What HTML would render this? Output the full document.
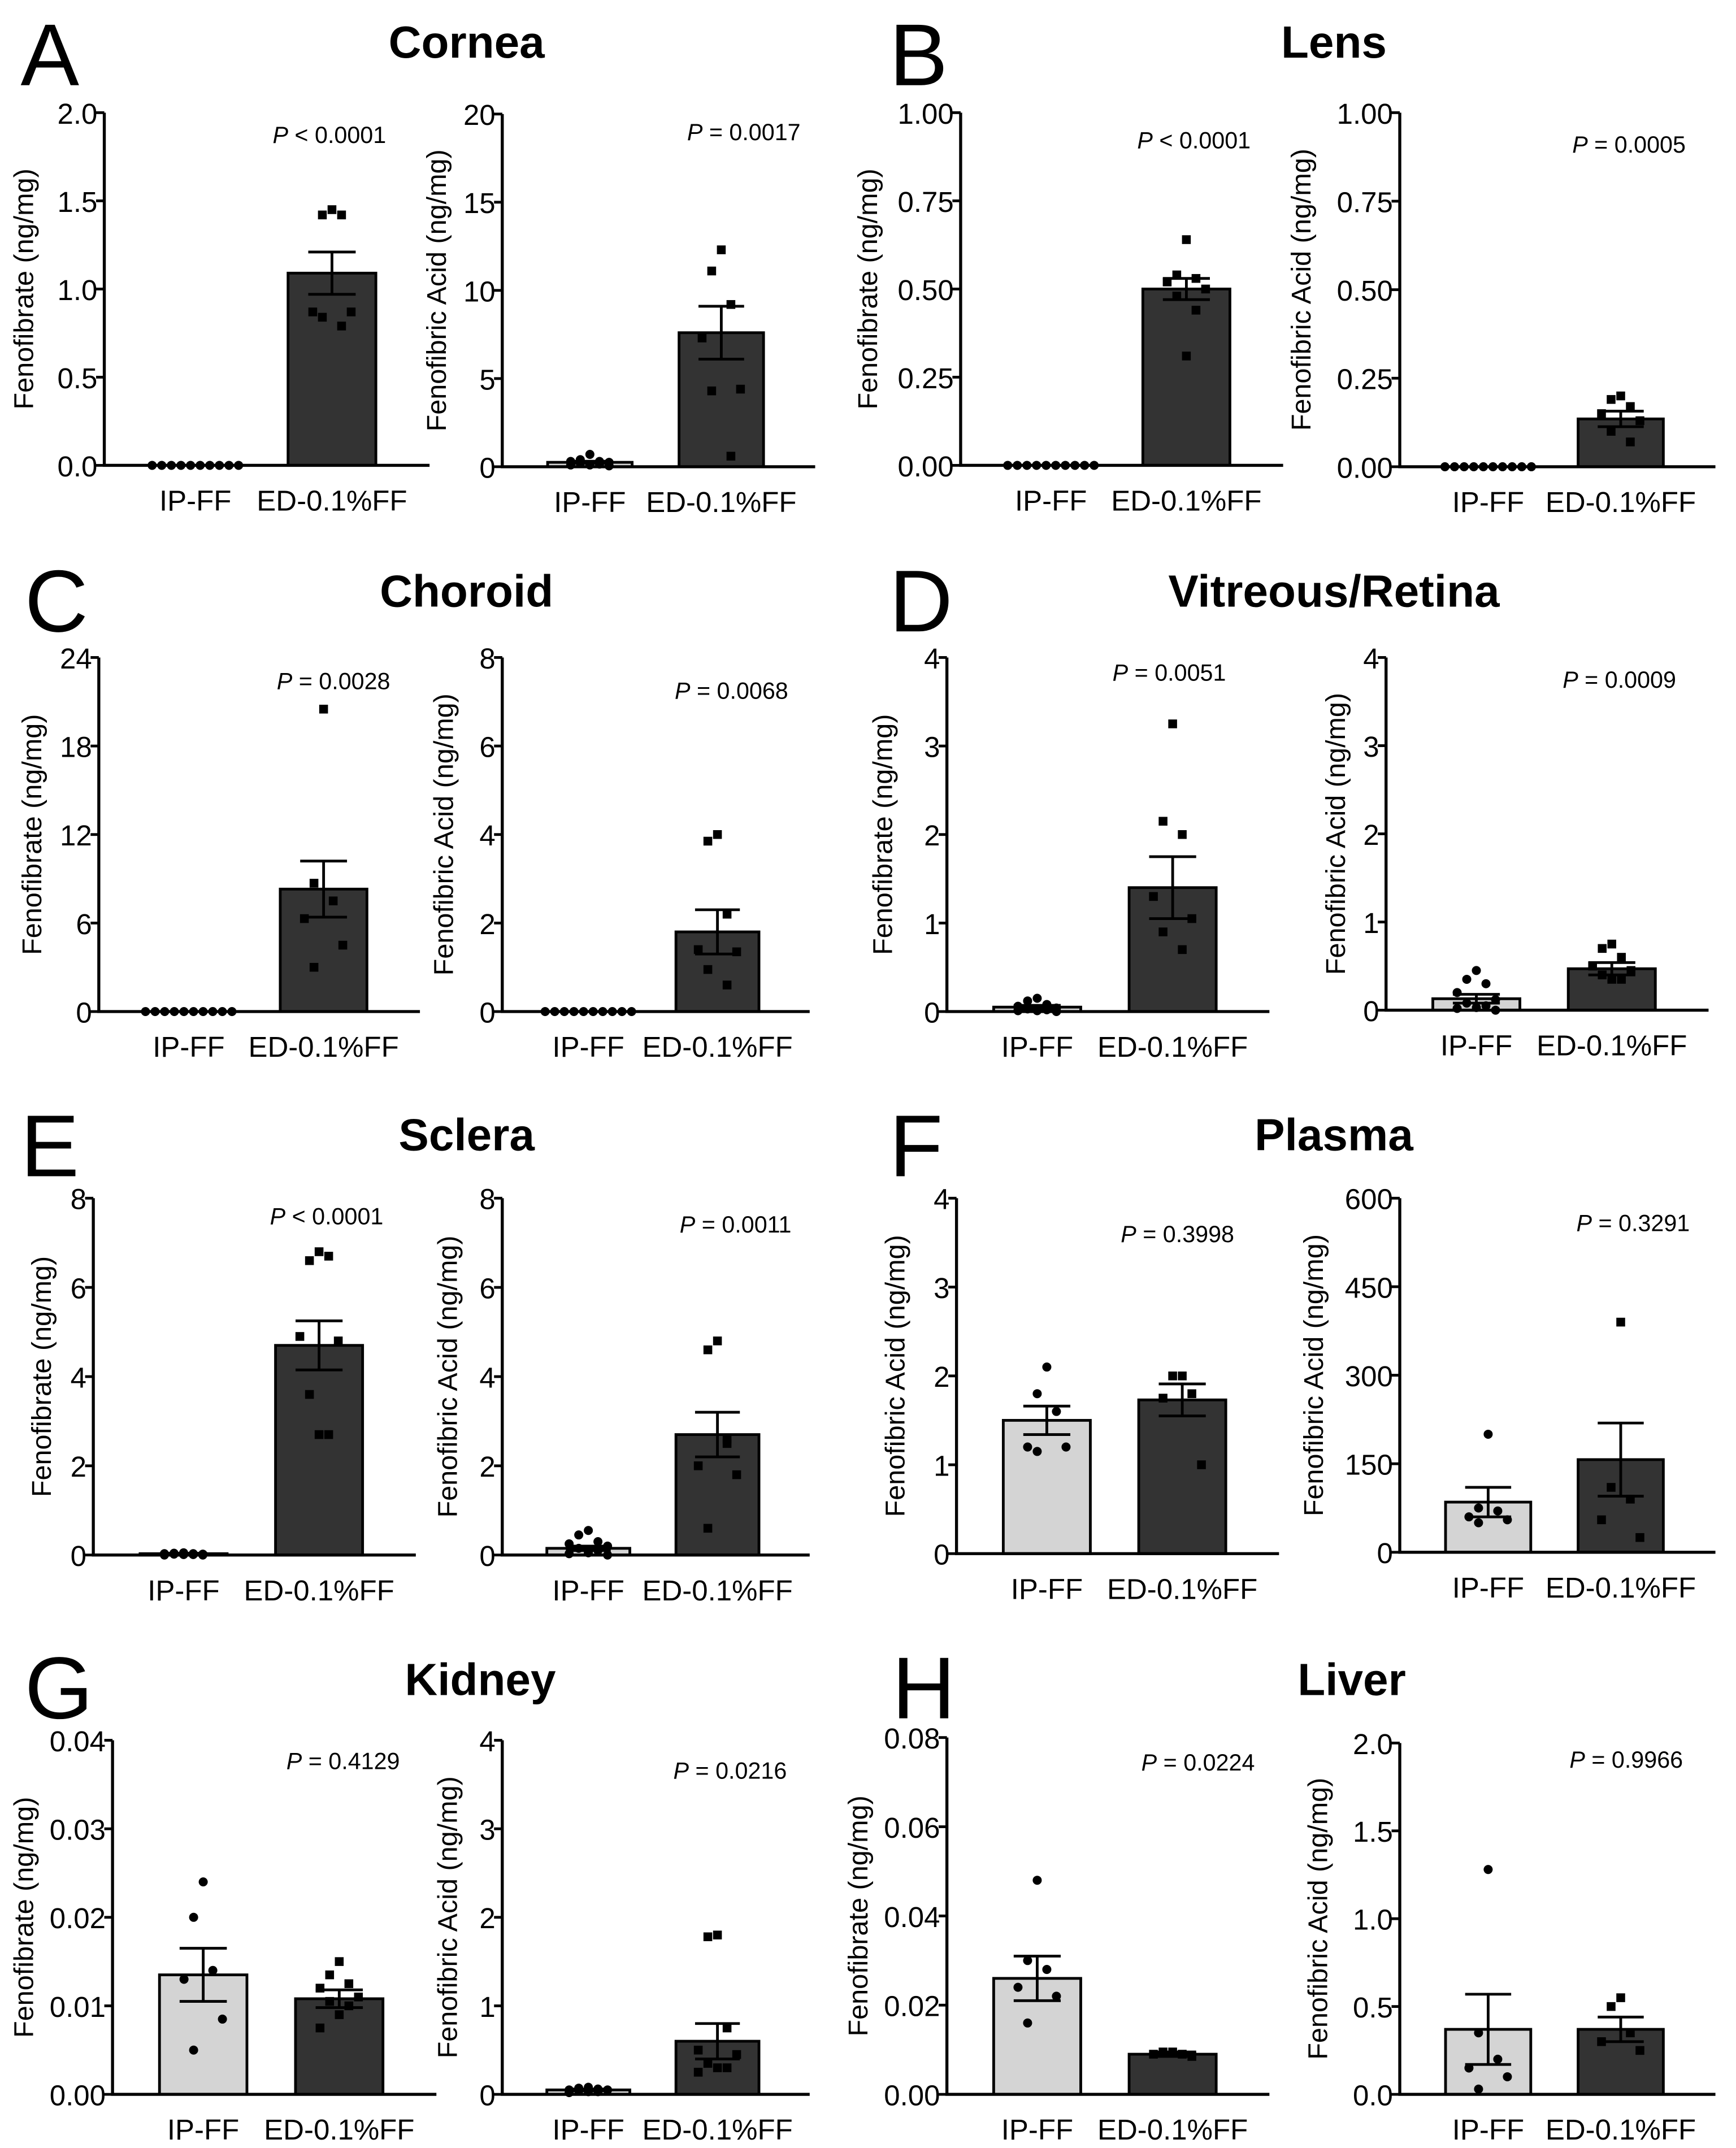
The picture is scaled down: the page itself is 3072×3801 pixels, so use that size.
<!DOCTYPE html>
<html><head><meta charset="utf-8"><style>html,body{margin:0;padding:0;background:#fff}svg{display:block}</style></head>
<body>
<svg id="fig" xmlns="http://www.w3.org/2000/svg" width="3072" height="3801" viewBox="0 0 1265 1565" font-family="Liberation Sans, sans-serif">
<rect width="1265" height="1565" fill="#fff"/>
</svg>
<script>
const NS='http://www.w3.org/2000/svg';
const svg=document.getElementById('fig');
function mk(tag,attrs,parent,text){const e=document.createElementNS(NS,tag);for(const k in attrs)e.setAttribute(k,attrs[k]);if(text!==undefined)e.textContent=text;(parent||svg).appendChild(e);return e;}

const panelLetters=['A','B','C','D','E','F','G','H'];
const panelTitles=['Cornea','Lens','Choroid','Vitreous/Retina','Sclera','Plasma','Kidney','Liver'];
const categories=['IP-FF','ED-0.1%FF'];
const yMaxes=[2,20,1,1,24,8,4,4,8,8,4,600,0.04,4,0.08,2];
const tickLabels=[
 ['0.0','0.5','1.0','1.5','2.0'],['0','5','10','15','20'],['0.00','0.25','0.50','0.75','1.00'],['0.00','0.25','0.50','0.75','1.00'],
 ['0','6','12','18','24'],['0','2','4','6','8'],['0','1','2','3','4'],['0','1','2','3','4'],
 ['0','2','4','6','8'],['0','2','4','6','8'],['0','1','2','3','4'],['0','150','300','450','600'],
 ['0.00','0.01','0.02','0.03','0.04'],['0','1','2','3','4'],['0.00','0.02','0.04','0.06','0.08'],['0.0','0.5','1.0','1.5','2.0']];
const yLabels=['Fenofibrate (ng/mg)','Fenofibric Acid (ng/mg)','Fenofibrate (ng/mg)','Fenofibric Acid (ng/mg)',
 'Fenofibrate (ng/mg)','Fenofibric Acid (ng/mg)','Fenofibrate (ng/mg)','Fenofibric Acid (ng/mg)',
 'Fenofibrate (ng/mg)','Fenofibric Acid (ng/mg)','Fenofibric Acid (ng/mg)','Fenofibric Acid (ng/mg)',
 'Fenofibrate (ng/mg)','Fenofibric Acid (ng/mg)','Fenofibrate (ng/mg)','Fenofibric Acid (ng/mg)'];
const pOps=['<','=','<','=','=','=','=','=','<','=','=','=','=','=','=','='];
const pVals=['0.0001','0.0017','0.0001','0.0005','0.0028','0.0068','0.0051','0.0009','0.0001','0.0011','0.3998','0.3291','0.4129','0.0216','0.0224','0.9966'];
const ipMeans=[0,0.25,0,0,0,0,0.05,0.13,0.03,0.15,1.5,85,0.0135,0.05,0.026,0.37];
const ipSems=[0,0.06,0,0,0,0,0.02,0.05,0.01,0.05,0.16,25,0.003,0.01,0.005,0.2];
const edMeans=[1.09,7.6,0.50,0.135,8.3,1.8,1.4,0.47,4.7,2.7,1.73,157,0.0108,0.6,0.009,0.37];
const edSems=[0.12,1.5,0.03,0.022,1.9,0.5,0.35,0.07,0.55,0.5,0.18,62,0.001,0.2,0.0005,0.07];
const ipPoints=[
 [0,0,0,0,0,0,0,0,0,0],[0.7,0.4,0.3,0.3,0.25,0.2,0.15,0.1,0.1,0.05],[0,0,0,0,0,0,0,0,0,0],[0,0,0,0,0,0,0,0,0,0],
 [0,0,0,0,0,0,0,0,0,0],[0,0,0,0,0,0,0,0,0,0],[0.15,0.12,0.08,0.06,0.04,0.03,0.02,0.01,0.01,0],[0.45,0.35,0.3,0.2,0.12,0.08,0.05,0.03,0.02,0],
 [0.05,0.04,0.03,0.03,0.02,0.02,0.01,0.01,0,0],[0.55,0.45,0.3,0.25,0.2,0.15,0.1,0.05,0.03,0],[2.1,1.8,1.6,1.2,1.2,1.15],[200,75,70,60,55,50],
 [0.024,0.020,0.014,0.013,0.0085,0.005],[0.08,0.07,0.06,0.05,0.05,0.04,0.03,0.03,0.02],[0.048,0.030,0.028,0.024,0.022,0.016],[1.28,0.35,0.2,0.15,0.1,0.03]];
const edPoints=[
 [1.45,1.42,1.42,0.87,0.87,0.84,0.79],[12.3,11.1,9.2,7.3,4.4,4.3,0.6],[0.64,0.54,0.53,0.52,0.50,0.48,0.44,0.31],[0.20,0.19,0.17,0.15,0.13,0.10,0.07],
 [20.5,8.7,7.5,6.3,4.5,3.0],[4.0,3.85,2.2,1.4,1.35,0.95,0.6],[3.25,2.15,2.0,1.3,1.05,0.9,0.7],[0.75,0.7,0.6,0.5,0.45,0.4,0.35,0.35],
 [6.8,6.6,6.7,4.9,4.8,3.6,2.7,2.7],[4.8,4.6,2.5,2.0,1.8,0.6,2.6],[2.0,2.0,1.8,1.75,1.0],[390,110,90,55,25],
 [0.015,0.0135,0.0125,0.012,0.011,0.0105,0.01,0.009,0.0075],[1.8,1.78,0.75,0.5,0.45,0.35,0.3,0.3,0.25],[0.0095,0.0095,0.009,0.009,0.0085],[0.55,0.5,0.35,0.3,0.25]];

// layout (viewBox units)
const axX=[76,366,700,1020,72,366,690,1010,68,366,697,1020,82,366,690,1020];
const axEnd=[313,594,935,1250,306,590,925,1245,303,590,932,1250,318,590,925,1250];
const axTop=[82,83,82,82,479,479,479,479,873,873,873,873,1268,1268,1266,1270];
const axBot=[339,340,339,340,737,737,737,736,1133,1133,1132,1131,1526,1526,1526,1526];
const yLabX=[24,325,639,955,30,330,650,980,37,333,659,964,24,333,632,967];
const pX=[240,542,870,1187,243,533,852,1180,238,536,858,1190,250,532,873,1185];
const pY=[98,96,102,105,496,503,490,495,886,892,899,891,1283,1290,1284,1282];
const letterPos=[[15,62],[648,62],[18,460],[648,460],[15,857],[648,857],[18,1252],[650,1252]];
const titlePos=[[340,42],[972,42],[340,442],[972,442],[340,838],[972,838],[350,1235],[985,1235]];

panelLetters.forEach((L,i)=>{
  const t=mk('text',{x:letterPos[i][0],y:letterPos[i][1],'font-size':64},svg,L);
  
  
  const tt=mk('text',{x:titlePos[i][0],y:titlePos[i][1],'font-size':33,'font-weight':'bold','text-anchor':'middle'},svg,panelTitles[i]);
  
  
});

for(let s=0;s<16;s++){
  const g=mk('g',{});
  
  
  const x0=axX[s],x1=axEnd[s],yt=axTop[s],yb=axBot[s],ym=yMaxes[s];
  const y=v=>yb-(v/ym)*(yb-yt);
  const W=x1-x0;
  const cx=[x0+0.28*W,x0+0.70*W];
  const bw=0.27*W;
  const means=[ipMeans[s],edMeans[s]],sems=[ipSems[s],edSems[s]],pts=[ipPoints[s],edPoints[s]];
  const fills=['#d4d4d4','#333333'];
  for(let c=0;c<2;c++){
    if(means[c]>0){
      const b=mk('rect',{x:cx[c]-bw/2,y:y(means[c]),width:bw,height:yb-y(means[c]),fill:fills[c],stroke:'#000','stroke-width':2},g);
      
      
    }
    const n=pts[c].length;
    const pat=[0,-1,1,-2,2,-1,1,0,-2,2];
    pts[c].forEach((v,i)=>{
      let off;
      if(means[c]===0) off=(i-(n-1)/2)*7;
      else off=pat[i%pat.length]*7;
      const px=cx[c]+off,py=y(v);
      let m;
      if(c===0) m=mk('circle',{cx:px,cy:py,r:3.3,fill:'#000'},g);
      else m=mk('rect',{x:px-3.2,y:py-3.2,width:6.4,height:6.4,fill:'#000'},g);
      
      
    });
    if(sems[c]>0){
      const cw=bw*0.27;
      const eb=mk('path',{d:`M${cx[c]},${y(means[c]-sems[c])}V${y(means[c]+sems[c])}M${cx[c]-cw},${y(means[c]+sems[c])}H${cx[c]+cw}M${cx[c]-cw},${y(means[c]-sems[c])}H${cx[c]+cw}`,stroke:'#000','stroke-width':2,fill:'none'},g);
      
      
    }
    const xl=mk('text',{x:cx[c],y:yb+33,'font-size':21,'text-anchor':'middle'},g,categories[c]);
    
    
  }
  const ax=mk('path',{d:`M${x0},${yt}V${yb}H${x1}`,stroke:'#000','stroke-width':2.2,fill:'none'},g);
  
  
  const tl=tickLabels[s];
  tl.forEach((lab,i)=>{
    const v=ym*i/(tl.length-1);
    const tk=mk('line',{x1:x0-6,x2:x0,y1:y(v),y2:y(v),stroke:'#000','stroke-width':2},g);
    
    
    const tx=mk('text',{x:x0-5,y:y(v)+8,'font-size':21,'text-anchor':'end'},g,lab);
    
    
  });
  const lx=yLabX[s];
  const yl=mk('text',{x:lx,y:(yt+yb)/2,'font-size':20,'text-anchor':'middle',transform:`rotate(-90 ${lx} ${(yt+yb)/2})`},g,yLabels[s]);
  
  
  const pt=mk('text',{x:pX[s],y:pY[s]+6,'font-size':17,'text-anchor':'middle'},g);
  
  
  mk('tspan',{'font-style':'italic'},pt,'P');
  mk('tspan',{},pt,' '+pOps[s]+' '+pVals[s]);
}
</script>
</body></html>
